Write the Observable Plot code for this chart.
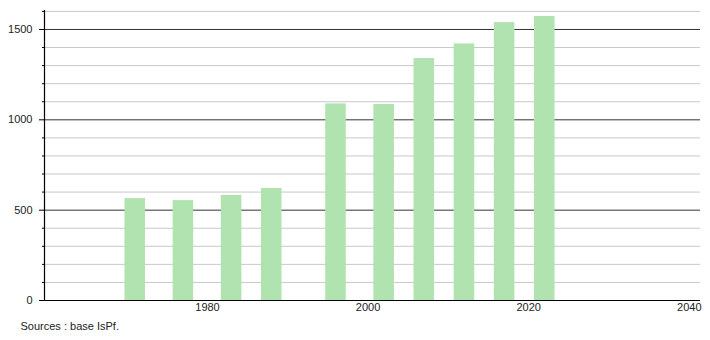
<!DOCTYPE html>
<html>
<head>
<meta charset="utf-8">
<script src="https://cdn.jsdelivr.net/npm/d3@7"></script>
<script src="https://cdn.jsdelivr.net/npm/@observablehq/plot@0.6"></script>
<style>
  html, body { margin: 0; padding: 0; background: #fff; }
</style>
</head>
<body>
<div id="chart"></div>
<script>
const years = [1971, 1977, 1983, 1988, 1996, 2002, 2007, 2012, 2017, 2022];
const population = [564, 553, 581, 620, 1088, 1085, 1339, 1420, 1538, 1572];
const xTicks = [1980, 2000, 2020, 2040];
const yMajorTicks = [0, 500, 1000, 1500];
const yMinorTicks = [100, 200, 300, 400, 600, 700, 800, 900, 1100, 1200, 1300, 1400, 1600];
const captionText = "Sources : base IsPf.";

const data = years.map((year, i) => ({year, value: population[i]}));
const xDomain = [1959.7, 2041.4];
const halfBar = 1.28;

const chart = Plot.plot({
  width: 710,
  height: 340,
  marginLeft: 44,
  marginRight: 10,
  marginTop: 10,
  marginBottom: 40,
  style: {fontFamily: "'Liberation Sans', Arial, sans-serif", fontSize: "11px", color: "#222", background: "#fff"},
  x: {domain: xDomain},
  y: {domain: [0, 1605]},
  marks: [
    Plot.ruleY(yMinorTicks, {stroke: "#c8c8c8", strokeWidth: 1}),
    Plot.ruleY(yMajorTicks.filter(d => d > 0), {stroke: "#333", strokeWidth: 1}),
    Plot.rectY(data, {x1: d => d.year - halfBar, x2: d => d.year + halfBar, y: "value", fill: "#b0e3b0"}),
    Plot.ruleY([0], {stroke: "#000", strokeWidth: 1.2}),
    Plot.ruleX([xDomain[0]], {stroke: "#000", strokeWidth: 1.2}),
    Plot.axisY({ticks: yMajorTicks, tickSize: 5, tickPadding: 7, tickFormat: d => String(d), label: null, stroke: "#000", fill: "#222"}),
    Plot.axisY({ticks: yMinorTicks, tickSize: 2, text: null, label: null, stroke: "#000"}),
    Plot.axisX({ticks: xTicks, tickSize: 0, tickPadding: 3, tickFormat: d => String(d), label: null, fill: "#222"}),
    Plot.text([captionText], {frameAnchor: "bottom-left", text: d => d, dx: -24, dy: 29, textAnchor: "start", fill: "#222"})
  ]
});
document.getElementById("chart").appendChild(chart);
</script>
</body>
</html>
